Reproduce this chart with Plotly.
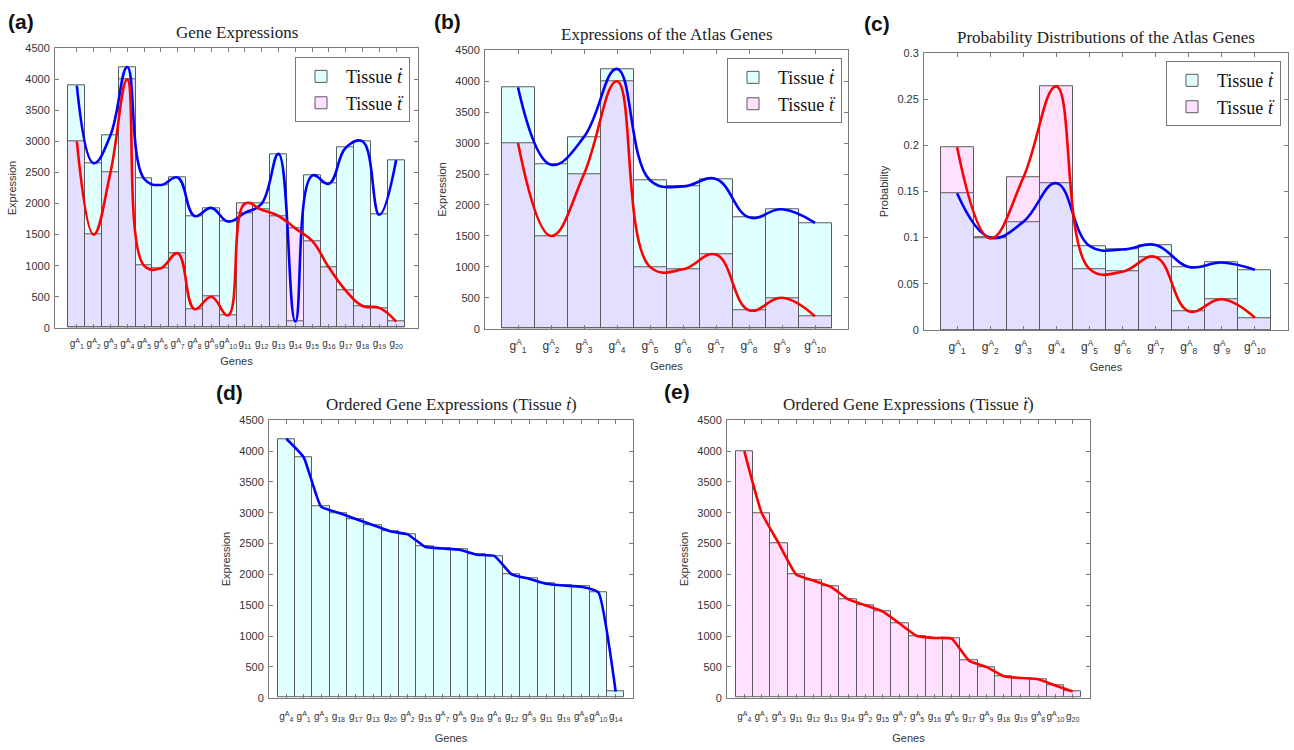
import plotly.graph_objects as go

W, H = 1294, 750

# ---------------- data ----------------
genes = [f"g{i}" for i in range(1, 21)]
tissue_dot = [3900, 2650, 3100, 4200, 2400, 2300, 2420, 1800, 1930, 1710,
              1850, 2000, 2800, 100, 2450, 2320, 2900, 3000, 1820, 2700]
tissue_ddot = [3000, 1500, 2500, 4000, 1000, 960, 1200, 300, 500, 200,
               2000, 1900, 1800, 1600, 1400, 970, 600, 350, 320, 100]

atlas_genes = genes[:10]
atlas_dot = tissue_dot[:10]
atlas_ddot = tissue_ddot[:10]

prob_dot = [0.148, 0.100, 0.117, 0.159, 0.091, 0.087, 0.092, 0.068, 0.073, 0.065]
prob_ddot = [0.198, 0.099, 0.165, 0.264, 0.066, 0.063, 0.079, 0.020, 0.033, 0.013]

order_dot_genes = ["g4", "g1", "g3", "g18", "g17", "g13", "g20", "g2", "g15", "g7",
                   "g5", "g16", "g6", "g12", "g9", "g11", "g19", "g8", "g10", "g14"]
order_dot_vals = [4200, 3900, 3100, 3000, 2900, 2800, 2700, 2650, 2450, 2420,
                  2400, 2320, 2300, 2000, 1930, 1850, 1820, 1800, 1710, 100]
order_ddot_genes = ["g4", "g1", "g3", "g11", "g12", "g13", "g14", "g2", "g15", "g7",
                    "g5", "g16", "g6", "g17", "g9", "g18", "g19", "g8", "g10", "g20"]
order_ddot_vals = [4000, 3000, 2500, 2000, 1900, 1800, 1600, 1500, 1400, 1200,
                   1000, 970, 960, 600, 500, 350, 320, 300, 200, 100]


def label(g):
    n = int(g[1:])
    if n <= 10:
        return f"g<sup>A</sup><sub>{n}</sub>"
    return f"g<sub>{n}</sub>"


# ---------------- style ----------------
CYAN = "rgba(0,255,255,0.12)"
PINK = "rgba(255,0,255,0.12)"
EDGE = "#5a5a5a"
AXC = "#7a7a7a"
TXT = "#333333"
SERIF = "Liberation Serif, Times New Roman, serif"
SANS = "Liberation Sans, Arial, sans-serif"
LEG_DOT = "Tissue <i>ṫ</i>"
LEG_DDOT = "Tissue <i>ẗ</i>"

# panel boxes in pixels: (left, right, top, bottom)
boxes = {
    1: (55, 418, 43, 327),
    2: (485, 848, 45, 328),
    3: (924, 1288, 48, 329),
    4: (269, 633, 421, 703),
    5: (727, 1090, 421, 703),
}

fig = go.Figure()


def xy(i):
    return ("x" if i == 1 else f"x{i}", "y" if i == 1 else f"y{i}")


def add_bars(i, x, y, color, name, legend, show):
    xa, ya = xy(i)
    fig.add_trace(go.Bar(x=x, y=y, width=1, marker=dict(color=color, line=dict(color=EDGE, width=1)),
                         name=name, legend=legend, showlegend=show, xaxis=xa, yaxis=ya))


def add_line(i, x, y, color, smooth=1.0):
    xa, ya = xy(i)
    fig.add_trace(go.Scatter(x=x, y=y, mode="lines", line=dict(color=color, width=2.6, shape="spline", smoothing=smooth),
                             showlegend=False, xaxis=xa, yaxis=ya, hoverinfo="skip"))


# (a)
xs20 = list(range(1, 21))
add_bars(1, xs20, tissue_dot, CYAN, LEG_DOT, "legend", True)
add_bars(1, xs20, tissue_ddot, PINK, LEG_DDOT, "legend", True)
add_line(1, xs20, tissue_dot, "#0000ff", 1.2)
add_line(1, xs20, tissue_ddot, "#ff0000", 1.2)

# (b)
xs10 = list(range(1, 11))
add_bars(2, xs10, atlas_dot, CYAN, LEG_DOT, "legend2", True)
add_bars(2, xs10, atlas_ddot, PINK, LEG_DDOT, "legend2", True)
add_line(2, xs10, atlas_dot, "#0000ff", 1.2)
add_line(2, xs10, atlas_ddot, "#ff0000", 1.2)

# (c)
add_bars(3, xs10, prob_dot, CYAN, LEG_DOT, "legend3", True)
add_bars(3, xs10, prob_ddot, PINK, LEG_DDOT, "legend3", True)
add_line(3, xs10, prob_dot, "#0000ff", 1.2)
add_line(3, xs10, prob_ddot, "#ff0000", 1.2)

# (d)
add_bars(4, xs20, order_dot_vals, CYAN, LEG_DOT, "legend", False)
add_line(4, xs20, order_dot_vals, "#0000ff", 0.4)

# (e)
add_bars(5, xs20, order_ddot_vals, PINK, LEG_DDOT, "legend", False)
add_line(5, xs20, order_ddot_vals, "#ff0000", 0.4)

ticktexts = {
    1: [label(g) for g in genes],
    2: [label(g) for g in atlas_genes],
    3: [label(g) for g in atlas_genes],
    4: [label(g) for g in order_dot_genes],
    5: [label(g) for g in order_ddot_genes],
}
xranges = {1: [-0.3, 21.3], 2: [0, 11], 3: [0, 11], 4: [0, 21], 5: [0, 21]}

layout = dict(
    width=W, height=H, margin=dict(l=0, r=0, t=0, b=0),
    paper_bgcolor="white", plot_bgcolor="white",
    barmode="overlay", bargap=0,
    font=dict(family=SANS, color=TXT, size=10),
)

for i, (l, r, t, b) in boxes.items():
    xk = "xaxis" if i == 1 else f"xaxis{i}"
    yk = "yaxis" if i == 1 else f"yaxis{i}"
    ya = "y" if i == 1 else f"y{i}"
    xa = "x" if i == 1 else f"x{i}"
    n = len(ticktexts[i])
    lower = i >= 4
    layout[xk] = dict(
        domain=[l / W, r / W], anchor=ya, range=xranges[i],
        tickvals=list(range(1, n + 1)), ticktext=ticktexts[i], tickangle=0,
        showline=True, linecolor=AXC, linewidth=1, mirror="ticks",
        ticks="inside", ticklen=4, tickcolor=AXC, showgrid=False, zeroline=False,
        ticklabelstandoff=9 if lower else 6,
        tickfont=dict(size=12 if n == 10 else 10, color=TXT, family=SANS),
        title=dict(text="Genes", font=dict(size=11, color=TXT, family=SANS), standoff=12 if lower else 8),
    )
    if i == 3:
        yextra = dict(range=[0, 0.3], dtick=0.05, title=dict(text="Probability", font=dict(size=11, color=TXT), standoff=6))
    else:
        yextra = dict(range=[0, 4500], dtick=500, title=dict(text="Expression", font=dict(size=11, color=TXT), standoff=6))
    layout[yk] = dict(
        domain=[1 - b / H, 1 - t / H], anchor=xa,
        showline=True, linecolor=AXC, linewidth=1, mirror="ticks",
        ticks="inside", ticklen=4, tickcolor=AXC, showgrid=False, zeroline=False,
        ticklabelstandoff=2,
        tickfont=dict(size=11, color=TXT, family=SANS), **yextra,
    )

leg_common = dict(bgcolor="white", bordercolor="#777777", borderwidth=1,
                  font=dict(family=SERIF, size=18, color="#111111"),
                  xanchor="right", yanchor="top", tracegroupgap=0, itemwidth=40)
layout["legend"] = dict(x=(boxes[1][1] - 8) / W, y=1 - (boxes[1][2] + 9) / H, **leg_common)
layout["legend2"] = dict(x=(boxes[2][1] - 6) / W, y=1 - (boxes[2][2] + 8) / H, **leg_common)
layout["legend3"] = dict(x=(boxes[3][1] - 7) / W, y=1 - (boxes[3][2] + 8) / H, **leg_common)

fig.update_layout(**layout)

titles = {
    1: "Gene Expressions",
    2: "Expressions of the Atlas Genes",
    3: "Probability Distributions of the Atlas Genes",
    4: "Ordered Gene Expressions (Tissue <i>ṫ</i>)",
    5: "Ordered Gene Expressions (Tissue <i>ẗ</i>)",
}
annotations = []
for i, (l, r, t, b) in boxes.items():
    annotations.append(dict(text=titles[i], x=(l + r) / 2 / W, y=1 - (t - 16) / H, xref="paper", yref="paper",
                            showarrow=False, font=dict(family=SERIF, size=17, color="#222222"),
                            xanchor="center", yanchor="middle"))
panel_labels = [("(a)", 6, 16), ("(b)", 432, 16), ("(c)", 862, 18), ("(d)", 214, 393), ("(e)", 662, 392)]
for txt, px, py in panel_labels:
    annotations.append(dict(text=f"<b>{txt}</b>", x=px / W, y=1 - py / H, xref="paper", yref="paper",
                            showarrow=False, font=dict(family=SANS, size=21, color="#111111"),
                            xanchor="left", yanchor="middle"))
fig.update_layout(annotations=annotations)

fig.write_html("out.html")
